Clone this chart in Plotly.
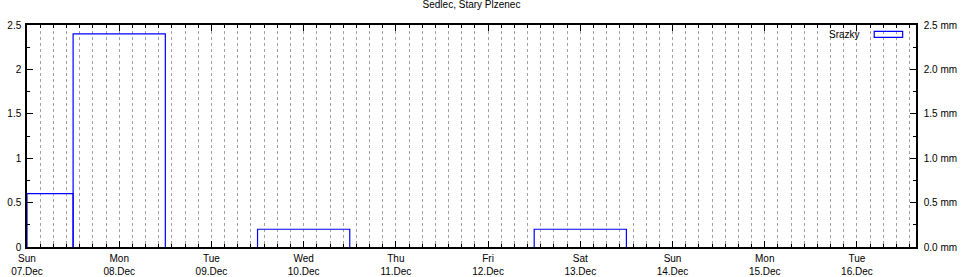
import plotly.graph_objects as go
import pandas as pd

# ---- data ----
bar_start = ["2025-12-07 00:00", "2025-12-07 12:00", "2025-12-09 12:00", "2025-12-12 12:00"]
bar_hours = [12, 24, 24, 24]
bar_value = [0.6, 2.4, 0.2, 0.2]

day_ticks = ["2025-12-07", "2025-12-08", "2025-12-09", "2025-12-10", "2025-12-11",
             "2025-12-12", "2025-12-13", "2025-12-14", "2025-12-15", "2025-12-16"]
day_labels = ["Sun<br>07.Dec", "Mon<br>08.Dec", "Tue<br>09.Dec", "Wed<br>10.Dec", "Thu<br>11.Dec",
              "Fri<br>12.Dec", "Sat<br>13.Dec", "Sun<br>14.Dec", "Mon<br>15.Dec", "Tue<br>16.Dec"]
y_ticks = [0, 0.5, 1.0, 1.5, 2.0, 2.5]
y2_labels = ["0.0 mm", "0.5 mm", "1.0 mm", "1.5 mm", "2.0 mm", "2.5 mm"]

title = "Sedlec, Stary Plzenec"
series_name = "Srazky"
x_range = ["2025-12-07 00:00", "2025-12-16 15:22"]

FONT = "Liberation Sans"
BLUE = "#0000ff"
HOUR_MS = 3600 * 1000

# build open-bottom box outlines from the data arrays
px, py = [], []
for s, h, v in zip(bar_start, bar_hours, bar_value):
    t0 = pd.Timestamp(s)
    t1 = t0 + pd.Timedelta(hours=h)
    px += [t0, t0, t1, t1, None]
    py += [0, v, v, 0, None]

fig = go.Figure()
fig.add_trace(go.Scatter(
    x=px, y=py, mode="lines",
    line=dict(color=BLUE, width=1.2),
    name=series_name, showlegend=False, connectgaps=False,
))
fig.add_trace(go.Scatter(x=[x_range[0]], y=[0], yaxis="y2", mode="markers",
                         marker=dict(opacity=0), showlegend=False, hoverinfo="skip"))

minor_dt = 24 * HOUR_MS / 7

axis_font = dict(family=FONT, size=10, color="black")

fig.update_layout(
    width=961, height=277,
    margin=dict(l=27, r=45, t=25, b=30),
    paper_bgcolor="white", plot_bgcolor="white",
    font=dict(family=FONT, size=10, color="black"),
    title=dict(text=title, x=0.5, xref="paper", y=0.995, yanchor="top",
               font=axis_font),
    xaxis=dict(
        type="date", range=x_range, automargin=False,
        tickmode="array", tickvals=day_ticks, ticktext=day_labels,
        ticks="inside", ticklen=6, tickcolor="black", tickwidth=1,
        showline=True, linecolor="black", linewidth=1.5, mirror="ticks",
        showgrid=True, gridcolor="#a0a0a0", griddash="dot", gridwidth=1,
        minor=dict(dtick=minor_dt, tick0=x_range[0], ticks="inside", ticklen=3,
                   tickcolor="black", showgrid=True, gridcolor="#a0a0a0", griddash="dot"),
        tickfont=axis_font, zeroline=False, layer="above traces",
        ticklabelstandoff=1,
    ),
    yaxis=dict(
        range=[0, 2.5], tickmode="array", tickvals=y_ticks, automargin=False,
        ticks="inside", ticklen=6, tickcolor="black",
        showline=True, linecolor="black", linewidth=1.5,
        minor=dict(dtick=0.25, ticks="inside", ticklen=3, tickcolor="black", showgrid=False),
        showgrid=False, zeroline=False, tickfont=axis_font,
        ticklabelstandoff=2,
    ),
    yaxis2=dict(
        range=[0, 2.5], overlaying="y", side="right", automargin=False,
        tickmode="array", tickvals=y_ticks, ticktext=y2_labels,
        ticks="inside", ticklen=6, tickcolor="black",
        showline=True, linecolor="black", linewidth=1.5,
        minor=dict(dtick=0.25, ticks="inside", ticklen=3, tickcolor="black", showgrid=False),
        showgrid=False, zeroline=False, tickfont=axis_font,
        ticklabelstandoff=4,
    ),
)

# legend (text to the left of the key box)
fig.add_annotation(text=series_name, xref="paper", yref="paper", x=0.939, y=0.957,
                   xanchor="right", yanchor="middle", showarrow=False, font=axis_font)
fig.add_shape(type="rect", xref="paper", yref="paper", x0=0.953, x1=0.985, y0=0.944, y1=0.971,
              line=dict(color=BLUE, width=1.2), fillcolor="rgba(0,0,0,0)")

fig.write_html("out.html")
